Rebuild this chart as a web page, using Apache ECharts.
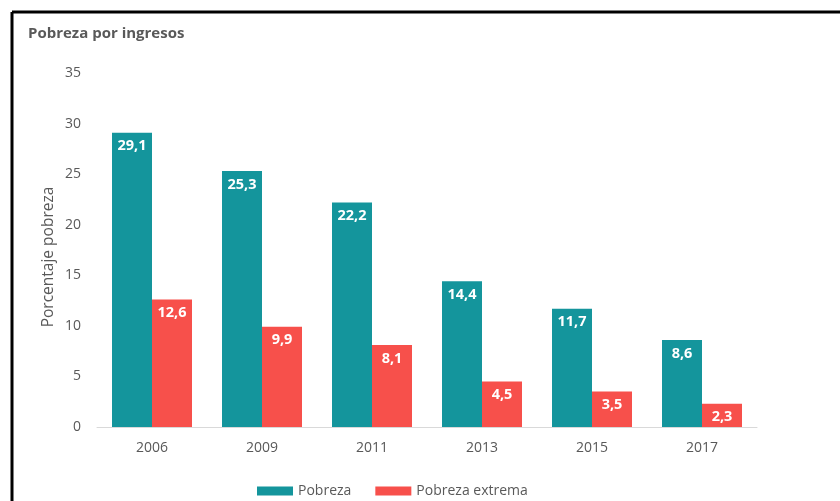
<!DOCTYPE html>
<html>
<head>
<meta charset="utf-8">
<script src="https://cdn.jsdelivr.net/npm/echarts@6/dist/echarts.min.js"></script>
<style>
  html, body { margin: 0; padding: 0; background: #ffffff; }
  #chart { width: 840px; height: 501px; }
</style>
</head>
<body>
<div id="chart"></div>
<script>
// Años de medición
const years = ['2006', '2009', '2011', '2013', '2015', '2017'];
// Porcentaje de pobreza por ingresos
const pobreza = [29.1, 25.3, 22.2, 14.4, 11.7, 8.6];
// Porcentaje de pobreza extrema
const pobrezaExtrema = [12.6, 9.9, 8.1, 4.5, 3.5, 2.3];
// Marcas del eje vertical
const yTicks = [0, 5, 10, 15, 20, 25, 30, 35];

const textGray = '#595959';
const fontFamily = '"Open Sans", "Noto Sans", sans-serif';

const chart = echarts.init(document.getElementById('chart'), null, { renderer: 'canvas' });

const valueLabel = {
  show: true,
  position: 'insideTop',
  distance: 6,
  color: '#ffffff',
  fontWeight: 'bold',
  fontSize: 14.5,
  fontFamily: fontFamily,
  formatter: p => String(p.value).replace('.', ',')
};

chart.setOption({
  animation: false,
  backgroundColor: '#ffffff',
  textStyle: { fontFamily: fontFamily },
  title: {
    text: 'Pobreza por ingresos',
    left: 23,
    top: 21,
    textStyle: { color: textGray, fontSize: 15, fontWeight: 'bold', fontFamily: fontFamily }
  },
  legend: {
    left: 252,
    top: 479,
    itemWidth: 36,
    itemHeight: 9,
    itemGap: 24,
    icon: 'rect',
    textStyle: { color: textGray, fontSize: 14, fontFamily: fontFamily },
    data: ['Pobreza', 'Pobreza extrema']
  },
  grid: { left: 97, right: 83, top: 73, bottom: 74, containLabel: false },
  xAxis: {
    type: 'category',
    data: years,
    axisLine: { lineStyle: { color: '#d9d9d9', width: 1 } },
    axisTick: { show: false },
    axisLabel: { color: textGray, fontSize: 14, margin: 14, fontFamily: fontFamily }
  },
  yAxis: {
    type: 'value',
    min: yTicks[0],
    max: yTicks[yTicks.length - 1],
    interval: 5,
    name: 'Porcentaje pobreza',
    nameLocation: 'middle',
    nameGap: 40,
    nameMoveOverlap: false,
    nameTextStyle: { color: textGray, fontSize: 15.5, fontFamily: fontFamily, padding: [0, 14, 0, 0] },
    axisLine: { show: false },
    axisTick: { show: false },
    splitLine: { show: false },
    axisLabel: { color: textGray, fontSize: 14, margin: 16, fontFamily: fontFamily }
  },
  series: [
    {
      name: 'Pobreza',
      type: 'bar',
      data: pobreza,
      barWidth: 40,
      barGap: '0%',
      itemStyle: { color: '#14959c' },
      label: valueLabel
    },
    {
      name: 'Pobreza extrema',
      type: 'bar',
      data: pobrezaExtrema,
      barWidth: 40,
      itemStyle: { color: '#f7504b' },
      label: valueLabel
    }
  ],
  graphic: [
    { type: 'line', shape: { x1: 12, y1: 12, x2: 840, y2: 12 }, style: { stroke: '#000000', lineWidth: 3 } },
    { type: 'line', shape: { x1: 12, y1: 12, x2: 12, y2: 501 }, style: { stroke: '#000000', lineWidth: 3 } }
  ]
});
</script>
</body>
</html>
